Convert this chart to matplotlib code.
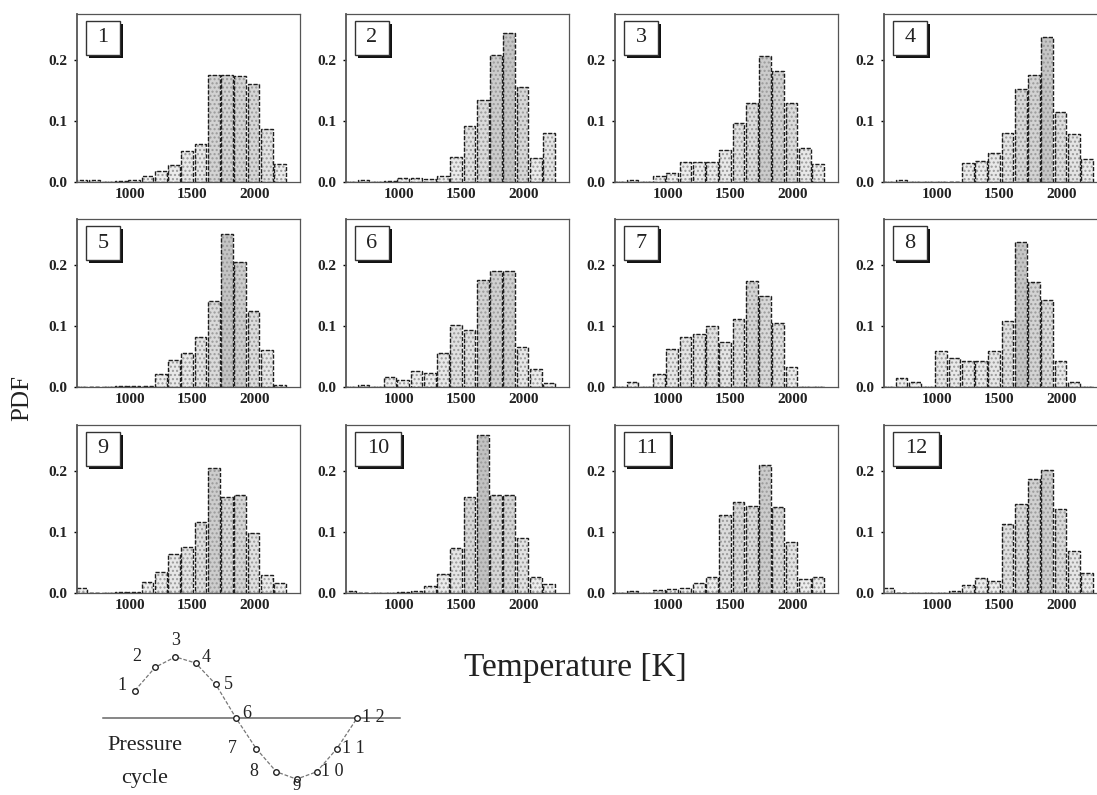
import numpy as np
import matplotlib.pyplot as plt
from matplotlib.patches import Rectangle
from matplotlib import transforms

plt.rcParams['font.family'] = ['Liberation Serif', 'DejaVu Serif']

W, H = 1097, 795

# temperature bins [K]
bin_centers = [610, 716, 822, 928, 1034, 1140, 1246, 1352, 1458, 1564,
               1670, 1776, 1882, 1988, 2094, 2200]
bin_width = 106

# PDF of flame temperature at the 12 phases of the pressure cycle
pdf_1 = [0.004, 0.003, 0, 0.002, 0.004, 0.01, 0.018, 0.028, 0.05, 0.063,
         0.175, 0.175, 0.173, 0.16, 0.087, 0.03]
pdf_2 = [0, 0.004, 0, 0.002, 0.007, 0.006, 0.005, 0.01, 0.041, 0.091,
         0.134, 0.208, 0.244, 0.156, 0.04, 0.081]
pdf_3 = [0, 0.004, 0, 0.01, 0.014, 0.032, 0.032, 0.032, 0.053, 0.096,
         0.129, 0.207, 0.181, 0.13, 0.056, 0.029]
pdf_4 = [0, 0.003, 0, 0, 0, 0, 0.031, 0.034, 0.047, 0.081,
         0.153, 0.175, 0.238, 0.115, 0.078, 0.038]
pdf_5 = [0, 0, 0, 0.002, 0.002, 0.002, 0.022, 0.045, 0.056, 0.082,
         0.141, 0.25, 0.204, 0.125, 0.06, 0.004]
pdf_6 = [0, 0.004, 0, 0.017, 0.012, 0.027, 0.023, 0.055, 0.102, 0.093,
         0.175, 0.19, 0.19, 0.066, 0.03, 0.007]
pdf_7 = [0, 0.009, 0, 0.022, 0.062, 0.082, 0.086, 0.1, 0.074, 0.112,
         0.173, 0.149, 0.104, 0.032, 0, 0]
pdf_8 = [0, 0.015, 0.008, 0, 0.059, 0.048, 0.043, 0.043, 0.059, 0.108,
         0.237, 0.172, 0.142, 0.043, 0.008, 0]
pdf_9 = [0.009, 0, 0, 0.002, 0.002, 0.018, 0.035, 0.064, 0.075, 0.117,
         0.204, 0.157, 0.16, 0.098, 0.029, 0.017]
pdf_10 = [0.003, 0, 0, 0, 0.002, 0.004, 0.012, 0.031, 0.074, 0.157,
          0.258, 0.16, 0.16, 0.09, 0.026, 0.014]
pdf_11 = [0, 0.003, 0, 0.005, 0.007, 0.009, 0.017, 0.026, 0.128, 0.149,
          0.143, 0.21, 0.14, 0.083, 0.023, 0.026]
pdf_12 = [0.008, 0, 0, 0, 0, 0.004, 0.013, 0.025, 0.02, 0.113,
          0.145, 0.186, 0.201, 0.138, 0.069, 0.033]
panels = [pdf_1, pdf_2, pdf_3, pdf_4, pdf_5, pdf_6,
          pdf_7, pdf_8, pdf_9, pdf_10, pdf_11, pdf_12]

x_ticks = [1000, 1500, 2000]
y_ticks = [0.0, 0.1, 0.2]

# pressure cycle sketch: phase index and normalised pressure
cycle_phase = [1, 2, 3, 4, 5, 6, 7, 8, 9, 10, 11, 12]
cycle_pressure = [0.45, 0.83, 1.0, 0.9, 0.55, 0.0,
                  -0.5, -0.88, -1.0, -0.88, -0.5, 0.0]
cycle_labels = ['1', '2', '3', '4', '5', '6', '7', '8', '9', '1 0', '1 1', '1 2']

fig = plt.figure(figsize=(W / 100, H / 100), dpi=100)


def px_axes(left, bottom, w, h):
    # left/bottom in pixels, bottom measured from the top of the image
    return fig.add_axes([left / W, 1 - bottom / H, w / W, h / H])


col_left = [77, 346, 615, 884]
row_bottom = [182, 387, 593]
ax_w, ax_h = 223, 168

for i, vals in enumerate(panels):
    r, c = divmod(i, 4)
    ax = px_axes(col_left[c], row_bottom[r], ax_w, ax_h)
    vals = np.array(vals)
    shade = plt.cm.Greys(0.12 + 0.9 * vals)
    ax.bar(bin_centers, vals, width=bin_width * 0.88, color=shade,
           edgecolor='#9a9a9a', hatch='....', linewidth=0)
    ax.bar(bin_centers, vals, width=bin_width * 0.88, fill=False,
           edgecolor='#1e1e1e', linewidth=1.0, linestyle=(0, (3, 1.2)))
    ax.set_xlim(576, 2360)
    ax.set_ylim(0, 0.275)
    ax.set_xticks(x_ticks)
    ax.set_yticks(y_ticks)
    ax.set_yticklabels(['0.0', '0.1', '0.2'])
    ax.tick_params(axis='x', length=0, pad=4, labelsize=11)
    ax.tick_params(axis='y', length=2, width=1, pad=5, labelsize=11)
    for lab in ax.get_xticklabels() + ax.get_yticklabels():
        lab.set_fontweight('bold')
        lab.set_color('#222222')
    for side, sp in ax.spines.items():
        sp.set_color('#555555')
        sp.set_linewidth(1.3 if side == 'left' else 0.9)

    # panel number in a framed box with a drop shadow
    label = str(i + 1)
    bw = (22 + 12 * len(label)) / ax_w
    bh = 34 / ax_h
    bx, by = 9 / ax_w, 1 - 41 / ax_h
    shadow_tr = transforms.offset_copy(ax.transAxes, fig=fig, x=3, y=-3, units='dots')
    ax.add_patch(Rectangle((bx, by), bw, bh, transform=shadow_tr,
                           facecolor='#111111', edgecolor='none', zorder=5))
    ax.add_patch(Rectangle((bx, by), bw, bh, transform=ax.transAxes,
                           facecolor='white', edgecolor='#333333', lw=1, zorder=6))
    ax.text(bx + bw / 2, by + bh / 2, label, transform=ax.transAxes,
            ha='center', va='center', fontsize=16, color='#222222', zorder=7)

# pressure cycle sketch
cx = px_axes(95, 795, 310, 165)
cx.set_xlim(-0.98, 14.37)
cx.set_ylim(-1.26, 1.44)
cx.axis('off')
cx.plot([-0.6, 14.1], [0, 0], color='#666666', lw=1.1)
cx.plot(cycle_phase, cycle_pressure, color='#777777', lw=0.9, ls=(0, (3, 1.5)))
cx.plot(cycle_phase, cycle_pressure, 'o', ms=4, mfc='white', mec='#222222', mew=1)
label_offsets = [(-13, 5), (-18, 11), (0, 16), (11, 5), (13, 0), (11, 4),
                 (-24, 0), (-23, 0), (0, -7), (16, 0), (16, 0), (16, 0)]
for k, p, t, (dx, dy) in zip(cycle_phase, cycle_pressure, cycle_labels, label_offsets):
    cx.annotate(t, (k, p), xytext=(dx, dy), textcoords='offset pixels',
                ha='center', va='center', fontsize=12 if t == '9' else 13,
                color='#222222')
fig.text(145 / W, 1 - 745 / H, 'Pressure', ha='center', va='center',
         fontsize=16, color='#222222')
fig.text(145 / W, 1 - 778 / H, 'cycle', ha='center', va='center',
         fontsize=16, color='#222222')

fig.text(575 / W, 1 - 668 / H, 'Temperature [K]', ha='center', va='center',
         fontsize=24, color='#222222')
fig.text(22 / W, 1 - 398 / H, 'PDF', ha='center', va='center', rotation=90,
         fontsize=18, color='#222222')

fig.savefig('out.png', dpi=100)
